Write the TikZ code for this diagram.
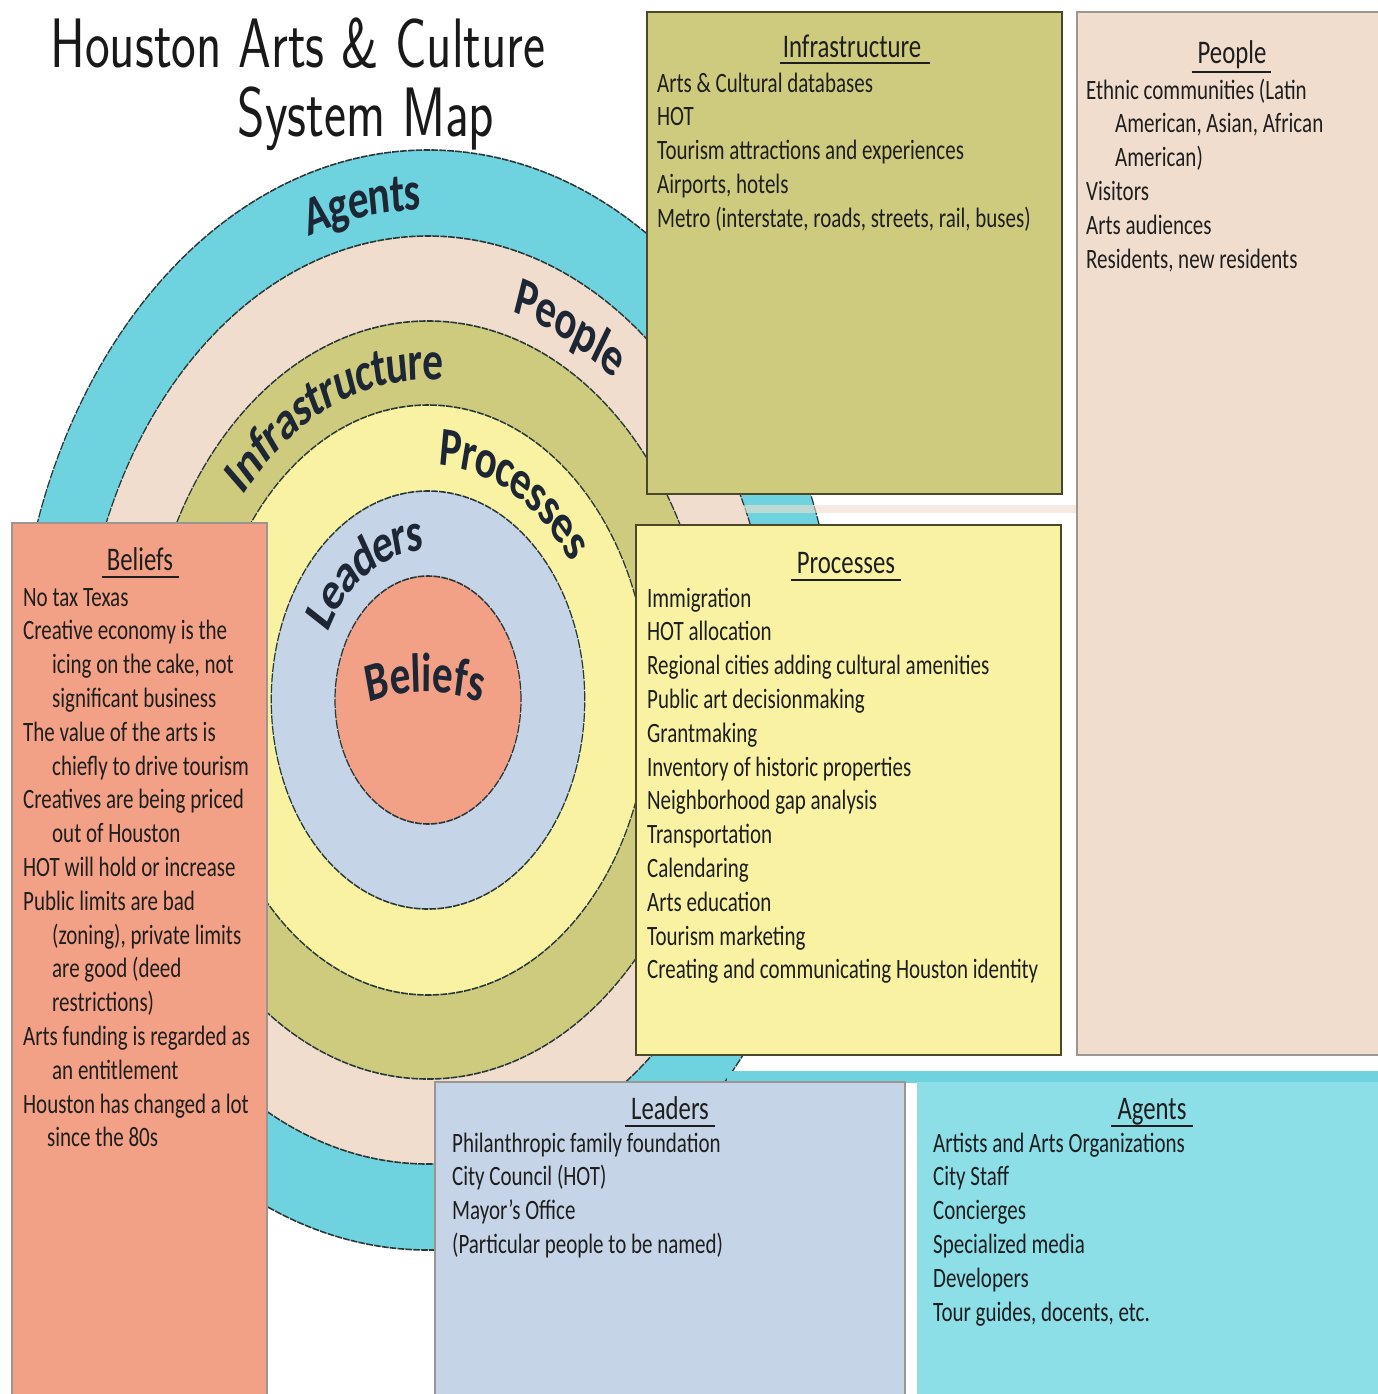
\documentclass[tikz,border=0pt]{standalone}
\usepackage{fontspec}
\usepackage{tikz}
\usetikzlibrary{decorations.text}
\newfontfamily\calibri{Carlito}

\definecolor{agentsring}{RGB}{111,211,223}
\definecolor{agentsfill}{RGB}{140,222,231}
\definecolor{peoplefill}{RGB}{241,221,205}
\definecolor{infrafill}{RGB}{207,203,126}
\definecolor{procfill}{RGB}{249,242,163}
\definecolor{leadfill}{RGB}{197,213,231}
\definecolor{belieffill}{RGB}{243,161,134}
\definecolor{ringedge}{RGB}{40,55,55}
\definecolor{boxdark}{RGB}{75,72,42}
\definecolor{boxgray}{RGB}{155,150,145}
\definecolor{labelink}{RGB}{28,38,52}
\definecolor{textink}{RGB}{30,30,30}

\newcommand{\ringfont}{\calibri\bfseries\fontsize{55}{60}\selectfont}
\newcommand{\wrapindent}{\hspace*{38.7pt}}

\begin{document}
\begin{tikzpicture}
\useasboundingbox (0pt,0pt) rectangle (1377pt,-1394pt);
\begin{scope}[transform canvas={xscale=0.75}, x=1.33333pt, y=-1pt,
        ringline/.style={draw=ringedge, line width=1.6pt, dash pattern=on 9pt off 1.5pt},
        ringlabel/.style={decorate, decoration={text along path, text align=center, raise=-17pt,
            text={|\ringfont\color{labelink}|#1}}},
        titletext/.style={font=\sffamily\fontsize{70}{74}\selectfont, anchor=base, inner sep=0pt, text=black!90},
        head/.style={font=\calibri\fontsize{33}{40}\selectfont, anchor=base, inner sep=0pt, text=textink},
        items/.style={font=\calibri\fontsize{28}{33.8}\selectfont, align=left, anchor=north west, inner sep=0pt, text=textink},
        uline/.style={draw=textink, line width=2pt}
        ]

        % Title
        \node[titletext] (title-top) at (298,68) {Houston Arts \& Culture};
        \node[titletext] (title-bottom) at (366,136) {System Map};

        % Rings, outside in
        \coordinate (hub) at (428,700);
        \draw[ringline, fill=agentsring] (hub) circle[radius=550pt];
        \draw[ringline, fill=peoplefill] (hub) circle[radius=464pt];
        \draw[ringline, fill=infrafill] (hub) circle[radius=379pt];
        \draw[ringline, fill=procfill] (hub) circle[radius=295pt];
        \draw[ringline, fill=leadfill] (hub) circle[radius=209pt];
        \draw[ringline, fill=belieffill] (hub) circle[radius=124pt];

        % Ring names
        \path[ringlabel=Agents] (hub) ++(125:507pt) arc[start angle=125, end angle=75, radius=507pt];
        \path[ringlabel=People] (hub) ++(85:421.5pt) arc[start angle=85, end angle=41, radius=421.5pt];
        \path[ringlabel=Infrastructure] (hub) ++(150:337pt) arc[start angle=150, end angle=77, radius=337pt];
        \path[ringlabel=Processes] (hub) ++(95:252pt) arc[start angle=95, end angle=27, radius=252pt];
        \path[ringlabel=Leaders] (hub) ++(165:166.5pt) arc[start angle=165, end angle=81, radius=166.5pt];
        \coordinate (arch) at (425,952);
        \path[ringlabel=Beliefs, decoration={raise=0pt}] (arch) ++(115:260pt) arc[start angle=115, end angle=65, radius=260pt];

        % Boxes
        \fill[peoplefill, opacity=0.6] (742,505) rectangle (1077,513);
        \draw[line width=2pt, draw=boxdark, fill=infrafill] (647,12) rectangle (1062,494);
        \draw[line width=1.5pt, draw=boxgray, fill=peoplefill] (1077,12) rectangle (1395,1055);
        \draw[line width=1.5pt, draw=boxgray, fill=belieffill] (12,523) rectangle (267,1410);
        \draw[line width=2pt, draw=boxdark, fill=procfill] (636,525) rectangle (1061,1055);
        \fill[agentsring] (727,1071) rectangle (1395,1083);
        \draw[line width=1.5pt, draw=boxgray, fill=leadfill] (435,1082) rectangle (905,1410);
        \fill[agentsfill] (917,1082) rectangle (1395,1410);

        % Infrastructure
        \node[head] (infra-head) at (852,57.5) {Infrastructure};
        \draw[uline] ([xshift=-3pt, yshift=-6pt]infra-head.base west) -- ([xshift=12pt, yshift=-6pt]infra-head.base east);
        \node[items] (infra-list) at (657,68.2) {\strut Arts \& Cultural databases\\HOT\\Tourism attractions and experiences\\Airports, hotels\\Metro (interstate, roads, streets, rail, buses)};

        % People
        \node[head] (people-head) at (1232,64) {People};
        \draw[uline] ([xshift=-8pt, yshift=-8pt]people-head.base west) -- ([xshift=6pt, yshift=-8pt]people-head.base east);
        \node[items] (people-list) at (1086,75.2) {\strut Ethnic communities (Latin\\\wrapindent American, Asian, African\\\wrapindent American)\\Visitors\\Arts audiences\\Residents, new residents};

        % Beliefs
        \node[head] (beliefs-head) at (140,570) {Beliefs};
        \draw[uline] ([xshift=-6pt, yshift=-7pt]beliefs-head.base west) -- ([xshift=8pt, yshift=-7pt]beliefs-head.base east);
        \node[items] (beliefs-list) at (23,582.2) {\strut No tax Texas\\Creative economy is the\\\wrapindent icing on the cake, not\\\wrapindent significant business\\The value of the arts is\\\wrapindent chiefly to drive tourism\\Creatives are being priced\\\wrapindent out of Houston\\HOT will hold or increase\\Public limits are bad\\\wrapindent (zoning), private limits\\\wrapindent are good (deed\\\wrapindent restrictions)\\Arts funding is regarded as\\\wrapindent an entitlement\\Houston has changed a lot\\\hspace*{32pt}since the 80s};

        % Processes
        \node[head] (proc-head) at (846,573) {Processes};
        \draw[uline] ([xshift=-8pt, yshift=-7pt]proc-head.base west) -- ([xshift=8pt, yshift=-7pt]proc-head.base east);
        \node[items] (proc-list) at (647,583.2) {\strut Immigration\\HOT allocation\\Regional cities adding cultural amenities\\Public art decisionmaking\\Grantmaking\\Inventory of historic properties\\Neighborhood gap analysis\\Transportation\\Calendaring\\Arts education\\Tourism marketing\\Creating and communicating Houston identity};

        % Leaders
        \node[head] (lead-head) at (670,1119) {Leaders};
        \draw[uline] ([xshift=-8pt, yshift=-7pt]lead-head.base west) -- ([xshift=8pt, yshift=-7pt]lead-head.base east);
        \node[items] (lead-list) at (452,1128.2) {\strut Philanthropic family foundation\\City Council (HOT)\\Mayor’s Office\\(Particular people to be named)};

        % Agents
        \node[head] (agents-head) at (1152,1119) {Agents};
        \draw[uline] ([xshift=-8pt, yshift=-7pt]agents-head.base west) -- ([xshift=8pt, yshift=-7pt]agents-head.base east);
        \node[items] (agents-list) at (933,1128.2) {\strut Artists and Arts Organizations\\City Staff\\Concierges\\Specialized media\\Developers\\Tour guides, docents, etc.};
\end{scope}
\end{tikzpicture}
\end{document}
